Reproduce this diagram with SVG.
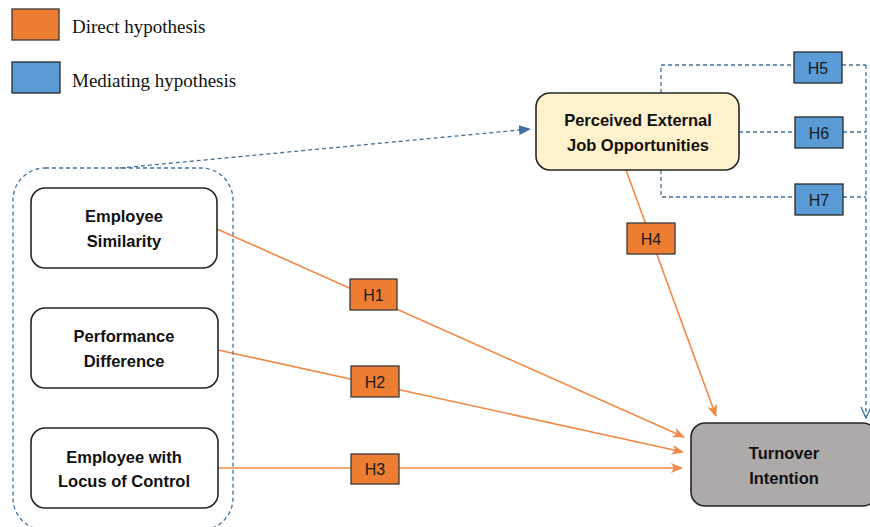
<svg xmlns="http://www.w3.org/2000/svg" width="870" height="527" viewBox="0 0 870 527">
<defs>
<style>
.node{stroke:#262626;stroke-width:1.6}
.lbl{font-family:"Liberation Sans",Arial,sans-serif;font-weight:bold;font-size:16.5px;fill:#111;text-anchor:middle}
.h{font-family:"Liberation Sans",Arial,sans-serif;font-size:16px;fill:#1a1a1a;text-anchor:middle}
.hor{fill:#ED7D31;stroke:#3a3a3a;stroke-width:1.3}
.hbl{fill:#5B9BD5;stroke:#2a2a2a;stroke-width:1.3}
.leg{font-family:"Liberation Serif","Times New Roman",serif;font-size:19px;fill:#111}
.or{stroke:#F08A46;stroke-width:1.6;fill:none}
.bd{stroke:#41719C;stroke-width:1.3;stroke-dasharray:4 3;fill:none}
</style>
<marker id="ao" markerWidth="12" markerHeight="10" refX="11" refY="5" orient="auto" markerUnits="userSpaceOnUse">
<path d="M0,0 L12,5 L0,10 L3,5 Z" fill="#F08A46"/>
</marker>
<marker id="ab" markerWidth="12" markerHeight="10" refX="11" refY="5" orient="auto" markerUnits="userSpaceOnUse">
<path d="M0,0 L12,5 L0,10 Z" fill="#41719C"/>
</marker>
<marker id="abo" markerWidth="12" markerHeight="12" refX="11" refY="6" orient="auto" markerUnits="userSpaceOnUse">
<path d="M0,1 L11,6 L0,11" fill="none" stroke="#41719C" stroke-width="1.3"/>
</marker>
</defs>
<rect width="870" height="527" fill="#fff"/>

<g id="legend">
<rect x="12" y="9" width="47" height="31" class="hor" stroke-width="1.6"/>
<text x="72" y="33" class="leg">Direct hypothesis</text>
<rect x="12" y="62" width="48" height="31" class="hbl" stroke-width="1.6"/>
<text x="72" y="87" class="leg">Mediating hypothesis</text>
</g>

<g id="connectors">
<line x1="120" y1="168" x2="530" y2="129" class="bd" marker-end="url(#ab)"/>
<line x1="217" y1="229" x2="684" y2="437" class="or" marker-end="url(#ao)"/>
<line x1="218" y1="350" x2="683" y2="452" class="or" marker-end="url(#ao)"/>
<line x1="218" y1="468" x2="682" y2="468" class="or" marker-end="url(#ao)"/>
<line x1="626" y1="170" x2="716" y2="416" class="or" marker-end="url(#ao)"/>
<polyline points="661,93 661,65 794,65" class="bd"/>
<line x1="842" y1="65" x2="866" y2="65" class="bd"/>
<line x1="739" y1="132" x2="795" y2="132" class="bd"/>
<line x1="843" y1="132" x2="866" y2="132" class="bd"/>
<polyline points="661,170 661,197 795,197" class="bd"/>
<line x1="843" y1="197" x2="866" y2="197" class="bd"/>
<line x1="866" y1="65" x2="866" y2="418" class="bd" marker-end="url(#abo)"/>
</g>

<g id="group-box">
<rect x="13" y="168" width="220" height="362" rx="32" class="bd" stroke="#3A5A8A"/>
</g>

<g id="employee-similarity">
<rect x="31" y="188" width="186" height="80" rx="14" fill="#fff" class="node"/>
<text x="124" y="222" class="lbl">Employee</text>
<text x="124" y="247" class="lbl">Similarity</text>
</g>
<g id="performance-difference">
<rect x="31" y="308" width="187" height="80" rx="14" fill="#fff" class="node"/>
<text x="124" y="342" class="lbl">Performance</text>
<text x="124" y="367" class="lbl">Difference</text>
</g>
<g id="locus-of-control">
<rect x="31" y="428" width="187" height="80" rx="14" fill="#fff" class="node"/>
<text x="124" y="463" class="lbl">Employee with</text>
<text x="124" y="487" class="lbl">Locus of Control</text>
</g>
<g id="perceived">
<rect x="536" y="93" width="203" height="77" rx="14" fill="#FFF2CC" class="node"/>
<text x="638" y="126" class="lbl">Perceived External</text>
<text x="638" y="151" class="lbl">Job Opportunities</text>
</g>
<g id="turnover">
<rect x="691" y="423" width="186" height="83" rx="14" fill="#AEAAAA" class="node"/>
<text x="784" y="459" class="lbl">Turnover</text>
<text x="784" y="484" class="lbl">Intention</text>
</g>

<g id="H1"><rect x="350" y="279" width="47" height="31" class="hor"/><text x="373.5" y="301" class="h">H1</text></g>
<g id="H2"><rect x="351" y="366" width="48" height="31" class="hor"/><text x="375" y="388" class="h">H2</text></g>
<g id="H3"><rect x="351" y="454" width="48" height="30" class="hor"/><text x="375" y="475" class="h">H3</text></g>
<g id="H4"><rect x="627" y="223" width="48" height="31" class="hor"/><text x="651" y="245" class="h">H4</text></g>
<g id="H5"><rect x="794" y="52" width="48" height="31" class="hbl"/><text x="818" y="74" class="h">H5</text></g>
<g id="H6"><rect x="795" y="117" width="48" height="31" class="hbl"/><text x="819" y="139" class="h">H6</text></g>
<g id="H7"><rect x="795" y="184" width="48" height="31" class="hbl"/><text x="819" y="206" class="h">H7</text></g>
</svg>
